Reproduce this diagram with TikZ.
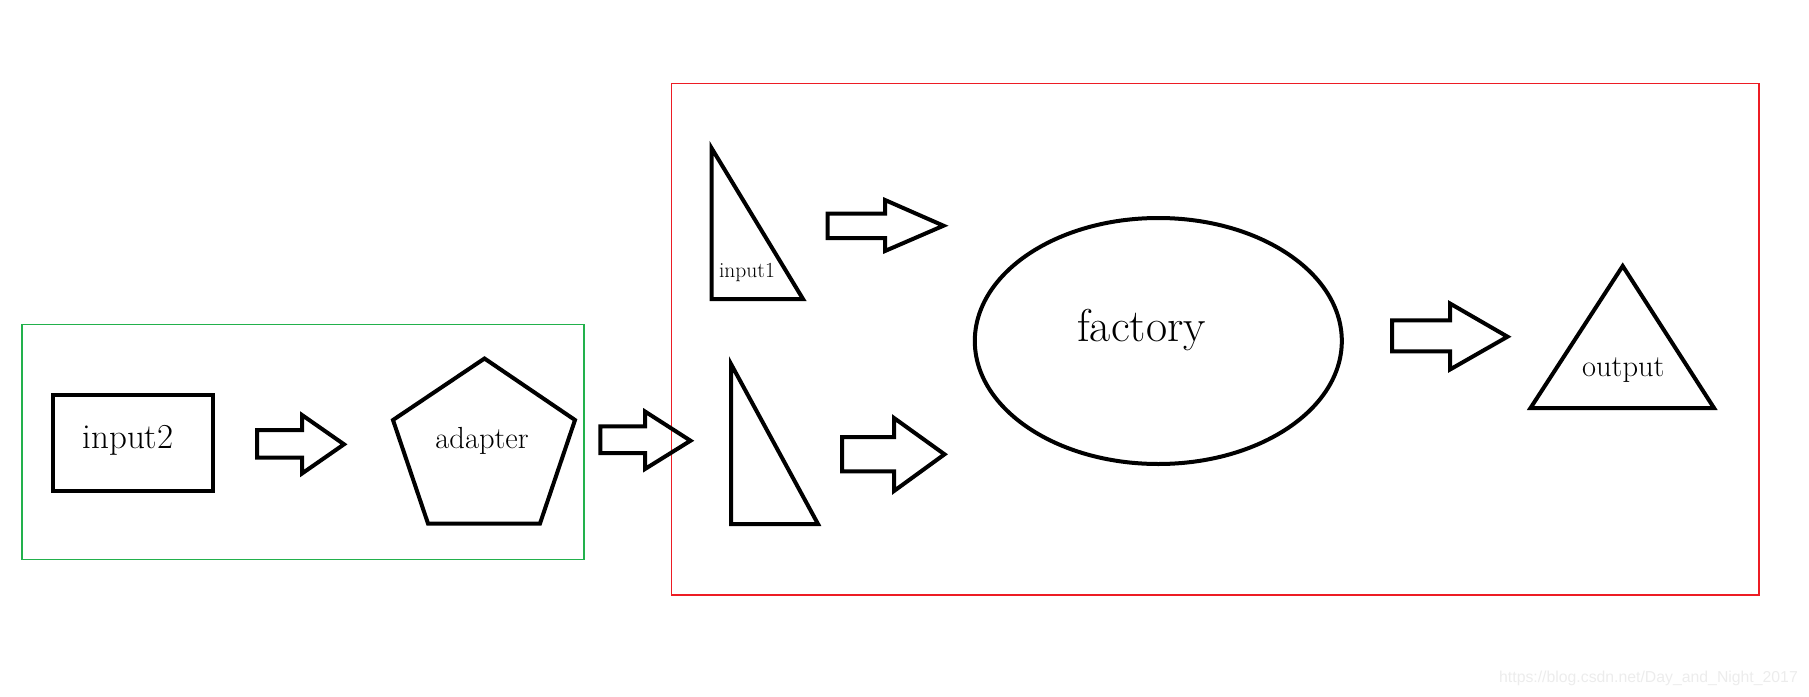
\documentclass[tikz,border=0pt]{standalone}
\usepackage{fontspec}
\newfontfamily\wmfont{Liberation Sans}
\definecolor{paintred}{RGB}{237,28,36}
\definecolor{paintgreen}{RGB}{34,177,76}
\definecolor{wmgray}{RGB}{236,236,236}
\begin{document}
\begin{tikzpicture}[x=1pt,y=-1pt,
  fig/.style={draw=black,line width=4pt,line join=miter},
  frame/.style={line width=1.2pt},
  lbl/.style={anchor=base,inner sep=0pt}]
\useasboundingbox (0,0) rectangle (1809,696);
% frames
\draw[frame,draw=paintgreen] (22,324.5) rectangle (584,559.5);
\draw[frame,draw=paintred] (671.7,83.5) rectangle (1759,595);
% input2 box
\draw[fig] (53,395) rectangle (213,491);
\node[lbl,font=\fontsize{35}{40}\selectfont] (in2) at (128,448) {input2};
% arrow 1
\draw[fig] (257,430) -- (302,430) -- (302,415) -- (344,444.3) -- (302,473.5) -- (302,457.5) -- (257,457.5) -- cycle;
% pentagon
\draw[fig] (484.5,358.5) -- (575,420) -- (540,523.5) -- (428,523.5) -- (393,420) -- cycle;
\node[lbl,font=\fontsize{30.5}{36}\selectfont] (adp) at (482,448) {adapter};
% adapter arrow
\draw[fig] (600.3,426.3) -- (645,426.3) -- (645,411.5) -- (690.5,440.7) -- (645,469) -- (645,453) -- (600.3,453) -- cycle;
% triangle 1
\draw[fig] (711.5,148) -- (803,299) -- (711.5,299) -- cycle;
\node[lbl,font=\fontsize{21.5}{26}\selectfont] (in1) at (747,277) {input1};
% triangle 2
\draw[fig] (731,364) -- (818,524) -- (731,524) -- cycle;
% arrow 2
\draw[fig] (827.7,213.7) -- (885,213.7) -- (885,200) -- (943.5,225.7) -- (885,251) -- (885,238) -- (827.7,238) -- cycle;
% arrow 3
\draw[fig] (842,437) -- (894,437) -- (894,418) -- (944.5,454.3) -- (894,491) -- (894,471.3) -- (842,471.3) -- cycle;
% factory ellipse
\draw[fig] (1158.3,341) ellipse [x radius=183.5, y radius=123];
\node[lbl,font=\fontsize{46}{52}\selectfont] (fac) at (1141.5,341.7) {factory};
% arrow 4
\draw[fig] (1392,320.3) -- (1450,320.3) -- (1450,303.5) -- (1507.5,336.7) -- (1450,369.5) -- (1450,351.3) -- (1392,351.3) -- cycle;
% output triangle
\draw[fig] (1622.7,266) -- (1714,408) -- (1530.5,408) -- cycle;
\node[lbl,font=\fontsize{30.5}{36}\selectfont] (out) at (1623.3,376.7) {output};
% watermark
\node[lbl,text=wmgray,font=\wmfont\fontsize{15.8}{18}\selectfont] (wm) at (1648.5,682) {https://blog.csdn.net/Day\_and\_Night\_2017};
\end{tikzpicture}
\end{document}
